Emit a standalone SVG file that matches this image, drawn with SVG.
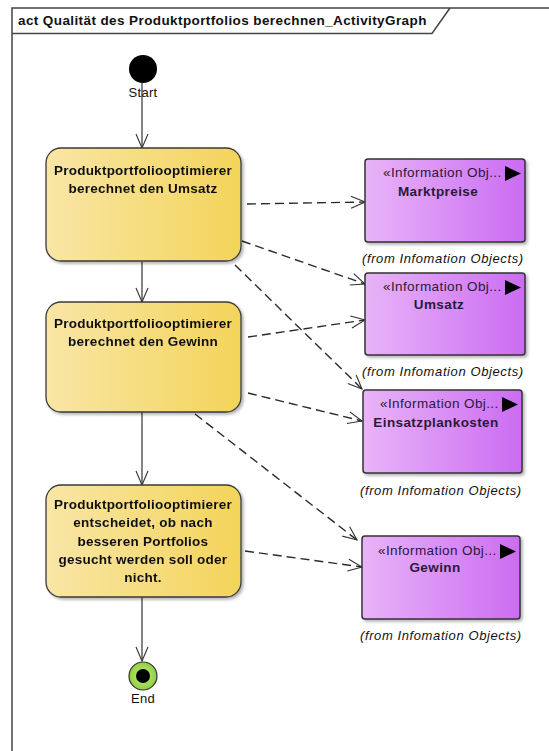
<svg xmlns="http://www.w3.org/2000/svg" width="549" height="751" viewBox="0 0 549 751">
  <defs>
    <linearGradient id="actionFill" x1="0" y1="0" x2="1" y2="0">
      <stop offset="0" stop-color="#f9e6a6"/>
      <stop offset="1" stop-color="#f3d45a"/>
    </linearGradient>
    <linearGradient id="objectFill" x1="0" y1="0" x2="1" y2="0">
      <stop offset="0" stop-color="#e8b4f8"/>
      <stop offset="1" stop-color="#cb6cf2"/>
    </linearGradient>
    <radialGradient id="endFill" cx="0.5" cy="0.5" r="0.5">
      <stop offset="0" stop-color="#c6ee8a"/>
      <stop offset="1" stop-color="#8fcf3c"/>
    </radialGradient>
    <filter id="shadow" x="-10%" y="-10%" width="125%" height="125%">
      <feGaussianBlur in="SourceAlpha" stdDeviation="1.5"/>
      <feOffset dx="2" dy="2" result="blur"/>
      <feComponentTransfer><feFuncA type="linear" slope="0.3"/></feComponentTransfer>
      <feMerge><feMergeNode/><feMergeNode in="SourceGraphic"/></feMerge>
    </filter>
    <marker id="open" viewBox="0 0 16 14" refX="15" refY="7" markerWidth="16" markerHeight="14" markerUnits="userSpaceOnUse" orient="auto">
      <path d="M1,1 L15,7 L1,13" fill="none" stroke="#333" stroke-width="1.1"/>
    </marker>
  </defs>
  <style>
    text { font-family: "Liberation Sans", Arial, sans-serif; fill: #111; }
    .title { font-size: 13.5px; font-weight: bold; letter-spacing: 0.4px; }
    .action { fill: url(#actionFill); stroke: #3a3a3a; stroke-width: 1.3; }
    .atext { font-size: 13.5px; font-weight: bold; text-anchor: middle; letter-spacing: 0.25px; }
    .obj { fill: url(#objectFill); stroke: #333; stroke-width: 1.5; }
    .stereo { font-size: 13.5px; fill: #2a1a3a; letter-spacing: 0.4px; }
    .oname { font-size: 13.5px; font-weight: bold; text-anchor: middle; fill: #2a1a3a; letter-spacing: 0.4px; }
    .from { font-size: 13px; font-style: italic; letter-spacing: 0.6px; }
    .small { font-size: 13px; text-anchor: middle; letter-spacing: 0.3px; }
    .flow { stroke: #333; stroke-width: 1.2; fill: none; marker-end: url(#open); }
    .dep { stroke: #2a2a2a; stroke-width: 1.4; fill: none; stroke-dasharray: 9 5; marker-end: url(#open); }
  </style>

  <rect width="549" height="751" fill="#ffffff"/>

  <!-- activity frame with name tab -->
  <g id="frame">
    <rect x="12" y="8" width="560" height="760" fill="none" stroke="#444" stroke-width="1.5"/>
    <path d="M12,33.5 L432,33.5 L450,8" fill="none" stroke="#444" stroke-width="1.5"/>
    <text class="title" x="18" y="25">act Qualität des Produktportfolios berechnen_ActivityGraph</text>
  </g>

  <!-- control flows and object flows -->
  <g id="connectors">
    <line class="flow" x1="142" y1="83" x2="142" y2="148"/>
    <line class="flow" x1="142" y1="262" x2="142" y2="302"/>
    <line class="flow" x1="142" y1="412" x2="142" y2="485"/>
    <line class="flow" x1="142" y1="597" x2="142" y2="661"/>
    <line class="dep" x1="247" y1="204" x2="365" y2="202"/>
    <line class="dep" x1="242" y1="241" x2="365" y2="284"/>
    <line class="dep" x1="235" y1="265" x2="362" y2="389"/>
    <line class="dep" x1="248" y1="337" x2="365" y2="320"/>
    <line class="dep" x1="248" y1="393" x2="362" y2="421"/>
    <line class="dep" x1="195" y1="414" x2="357" y2="540"/>
    <line class="dep" x1="245" y1="551" x2="362" y2="567"/>
  </g>

  <g id="start">
    <circle cx="143" cy="69" r="14" fill="#000"/>
    <text class="small" x="143" y="97">Start</text>
  </g>

  <g id="end">
    <circle cx="143" cy="676" r="14" fill="url(#endFill)" stroke="#333" stroke-width="1.2"/>
    <circle cx="143" cy="676" r="7" fill="#000"/>
    <text class="small" x="143" y="703">End</text>
  </g>

  <g id="umsatzBerechnen" filter="url(#shadow)">
    <rect class="action" x="46" y="148" width="195" height="113" rx="15"/>
    <text class="atext" x="143" y="175">Produktportfoliooptimierer</text>
    <text class="atext" x="143" y="193">berechnet den Umsatz</text>
  </g>

  <g id="gewinnBerechnen" filter="url(#shadow)">
    <rect class="action" x="46" y="302" width="195" height="110" rx="15"/>
    <text class="atext" x="143" y="328">Produktportfoliooptimierer</text>
    <text class="atext" x="143" y="346">berechnet den Gewinn</text>
  </g>

  <g id="entscheiden" filter="url(#shadow)">
    <rect class="action" x="46" y="485" width="195" height="112" rx="15"/>
    <text class="atext" x="143" y="509">Produktportfoliooptimierer</text>
    <text class="atext" x="143" y="527">entscheidet, ob nach</text>
    <text class="atext" x="143" y="546">besseren Portfolios</text>
    <text class="atext" x="143" y="564">gesucht werden soll oder</text>
    <text class="atext" x="143" y="582">nicht.</text>
  </g>

  <g id="marktpreise">
    <rect class="obj" x="365" y="159" width="160" height="83" rx="3" filter="url(#shadow)"/>
    <text class="stereo" x="383" y="177">«Information Obj...</text>
    <polygon points="505,166 505,181 521,173.5" fill="#000"/>
    <text class="oname" x="438" y="196">Marktpreise</text>
    <text class="from" x="362" y="263">(from Infomation Objects)</text>
  </g>

  <g id="umsatz">
    <rect class="obj" x="365" y="273" width="160" height="82" rx="3" filter="url(#shadow)"/>
    <text class="stereo" x="383" y="291">«Information Obj...</text>
    <polygon points="505,280 505,295 521,287.5" fill="#000"/>
    <text class="oname" x="439" y="309">Umsatz</text>
    <text class="from" x="362" y="376">(from Infomation Objects)</text>
  </g>

  <g id="einsatzplankosten">
    <rect class="obj" x="363" y="390" width="159" height="83" rx="3" filter="url(#shadow)"/>
    <text class="stereo" x="380" y="408">«Information Obj...</text>
    <polygon points="502,397 502,412 518,404.5" fill="#000"/>
    <text class="oname" x="436" y="427">Einsatzplankosten</text>
    <text class="from" x="360" y="495">(from Infomation Objects)</text>
  </g>

  <g id="gewinn">
    <rect class="obj" x="362" y="536" width="158" height="83" rx="3" filter="url(#shadow)"/>
    <text class="stereo" x="378" y="555">«Information Obj...</text>
    <polygon points="500,544 500,559 516,551.5" fill="#000"/>
    <text class="oname" x="435" y="572">Gewinn</text>
    <text class="from" x="360" y="640">(from Infomation Objects)</text>
  </g>
</svg>
